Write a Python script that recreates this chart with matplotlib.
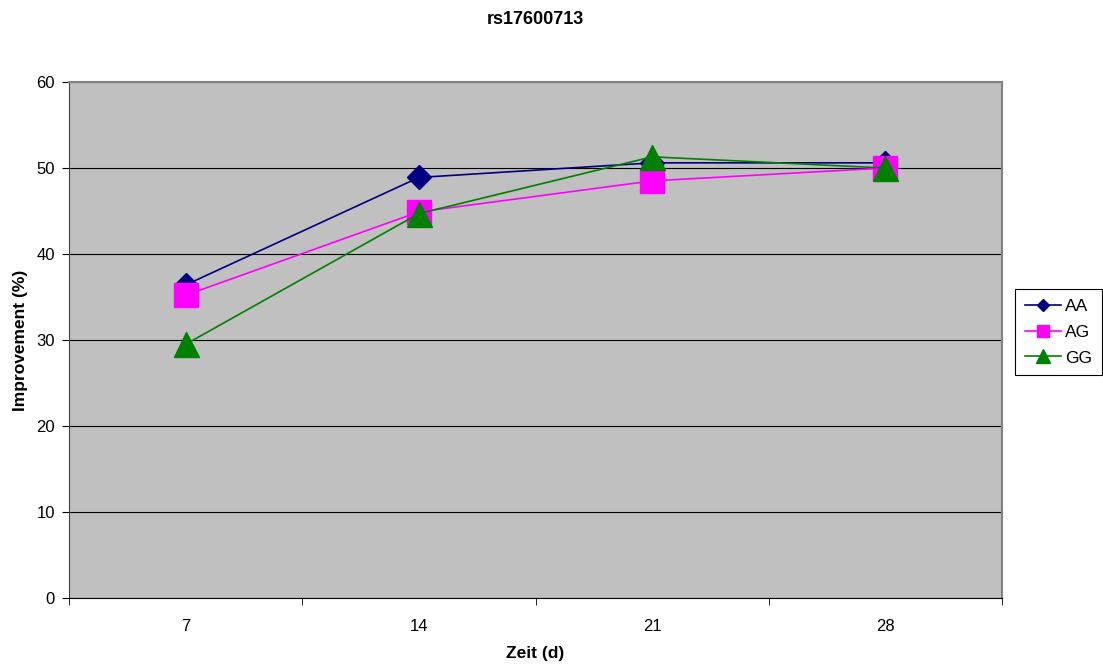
import matplotlib
matplotlib.use("Agg")
import matplotlib.pyplot as plt

plt.rcParams['font.family'] = ['Liberation Sans', 'DejaVu Sans']

days = ['7', '14', '21', '28']
aa = [36.4, 48.9, 50.6, 50.6]
ag = [35.2, 44.9, 48.5, 50.0]
gg = [29.5, 44.7, 51.3, 50.0]

fig = plt.figure(figsize=[11.03, 6.66], dpi=100)
fig.patch.set_facecolor('white')

ax = fig.add_axes([69 / 1103, 68 / 666, 933 / 1103, 516 / 666])
ax.set_facecolor('#C0C0C0')

x = range(len(days))
ax.plot(x, aa, color='#000080', linewidth=1.2, marker='D', markersize=12, label='AA', zorder=3)
ax.plot(x, ag, color='#FF00FF', linewidth=1.2, marker='s', markersize=17, label='AG', zorder=4)
ax.plot(x, gg, color='#008000', linewidth=1.2, marker='^', markersize=18, label='GG', zorder=5)

ax.set_xlim(-0.5, 3.5)
ax.set_ylim(0, 60)
ax.set_yticks(range(0, 61, 10))
ax.set_xticks(list(x))
ax.set_xticklabels(days)
ax.set_xticks([-0.5, 0.5, 1.5, 2.5, 3.5], minor=True)
ax.tick_params(axis='x', which='major', length=0, pad=15, labelsize=12)
ax.tick_params(axis='x', which='minor', length=5, direction='out', color='black')
ax.tick_params(axis='y', length=5, direction='out', labelsize=12, color='black', pad=5)

ax.yaxis.grid(True, color='black', linewidth=0.8)
ax.set_axisbelow(True)

for s in ['top', 'right']:
    ax.spines[s].set_color('#808080')
    ax.spines[s].set_linewidth(1.5)
ax.spines['left'].set_color('#404040')
ax.spines['bottom'].set_color('black')

ax.set_xlabel('Zeit (d)', fontsize=12.5, fontweight='bold', labelpad=9)
ax.set_ylabel('Improvement (%)', fontsize=12.5, fontweight='bold', labelpad=6)
fig.text(0.5 * (69 + 1002) / 1103, 1 - 20 / 666, 'rs17600713', ha='center', va='center',
         fontsize=13, fontweight='bold')

leg = fig.legend(loc='upper left', bbox_to_anchor=(1015 / 1103, 1 - 289 / 666),
                 borderaxespad=0, fancybox=False, framealpha=1, edgecolor='black',
                 fontsize=12.5, markerscale=0.55, handlelength=2.1, handletextpad=0.25,
                 labelspacing=0.62, borderpad=0.55)
leg.get_frame().set_linewidth(0.8)

plt.savefig('out.png', dpi=100)
